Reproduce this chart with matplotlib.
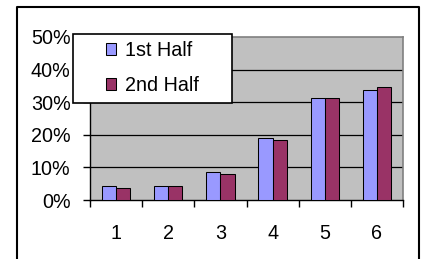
import numpy as np
import matplotlib.pyplot as plt
from matplotlib.patches import Rectangle
from matplotlib.lines import Line2D
from matplotlib.ticker import FixedLocator, PercentFormatter

categories = ["1", "2", "3", "4", "5", "6"]
first_half = [4.3, 4.3, 8.7, 18.9, 31.2, 33.7]
second_half = [3.6, 4.3, 8.0, 18.4, 31.2, 34.8]
y_ticks = [0, 10, 20, 30, 40, 50]

plt.rcParams["font.family"] = ["Liberation Sans", "DejaVu Sans"]
plt.rcParams["font.size"] = 14.2

W, H = 425, 259
fig = plt.figure(figsize=(W / 100, H / 100), dpi=100)
fig.patch.set_facecolor("white")

def fx(px):
    return px / W

def fy(py):
    return 1 - py / H

ax = fig.add_axes([fx(90), fy(200), fx(403) - fx(90), fy(37) - fy(200)])
ax.set_facecolor("#c0c0c0")

x = np.arange(1, len(categories) + 1)
w = 0.27
ax.bar(x - w / 2, first_half, w, color="#9999ff", edgecolor="black",
       linewidth=0.75, label="1st Half", zorder=3)
ax.bar(x + w / 2, second_half, w, color="#993366", edgecolor="black",
       linewidth=0.75, label="2nd Half", zorder=3)

ax.set_xlim(0.5, len(categories) + 0.5)
ax.set_ylim(0, 50)
ax.set_yticks(y_ticks)
ax.yaxis.set_major_formatter(PercentFormatter(decimals=0))
for v in y_ticks[1:-1]:
    ax.axhline(v, color="black", linewidth=0.9, zorder=1)

ax.set_xticks(x)
ax.set_xticklabels(categories)
ax.xaxis.set_minor_locator(FixedLocator(np.arange(0.5, len(categories) + 1, 1)))
ax.tick_params(axis="x", which="major", length=0, pad=17)
ax.tick_params(axis="x", which="minor", length=5, width=1, direction="out")
ax.tick_params(axis="y", length=5, width=1, direction="out", pad=9)

for side in ["left", "bottom"]:
    ax.spines[side].set_color("black")
    ax.spines[side].set_linewidth(1)
for side in ["top", "right"]:
    ax.spines[side].set_color("#808080")
    ax.spines[side].set_linewidth(1.2)

# legend box
fig.patches.append(Rectangle((fx(73), fy(103)), fx(232) - fx(73), fy(34) - fy(103),
                             transform=fig.transFigure, facecolor="white",
                             edgecolor="black", linewidth=1.2, zorder=4))
fig.legend(loc="center left", bbox_to_anchor=(fx(106), fy(68)), frameon=False,
           borderpad=0, borderaxespad=0, handlelength=0.5, handleheight=0.55,
           handletextpad=0.45, labelspacing=0.8)

# outer chart border (bottom cut off)
fig.lines.append(Line2D([fx(17), fx(17), fx(419), fx(419)],
                        [fy(262), fy(7), fy(7), fy(262)],
                        transform=fig.transFigure, color="black", linewidth=1.5))

fig.savefig("out.png", dpi=100)
